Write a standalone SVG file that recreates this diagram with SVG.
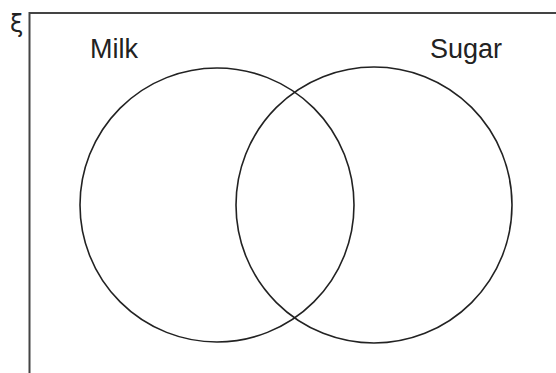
<svg xmlns="http://www.w3.org/2000/svg" width="556" height="373" viewBox="0 0 556 373">
<style>
.frame{fill:none;stroke:#444;stroke-width:2}
.set{fill:none;stroke:#222;stroke-width:1.6}
.lbl{font-family:"Liberation Sans",Arial,sans-serif;font-size:27px;fill:#222}
</style>
<rect width="556" height="373" fill="#fff"/>
<g id="universe">
<path class="frame" d="M29.5,380 V13 H560"/>
<text x="10" y="32" font-family="'DejaVu Sans',sans-serif" font-size="24" fill="#222">ξ</text>
</g>
<g id="milk">
<circle class="set" cx="217" cy="205" r="137"/>
<text class="lbl" x="90" y="58">Milk</text>
</g>
<g id="sugar">
<circle class="set" cx="374" cy="205" r="138"/>
<text class="lbl" x="430" y="58">Sugar</text>
</g>
<g id="connectors"></g>
</svg>
